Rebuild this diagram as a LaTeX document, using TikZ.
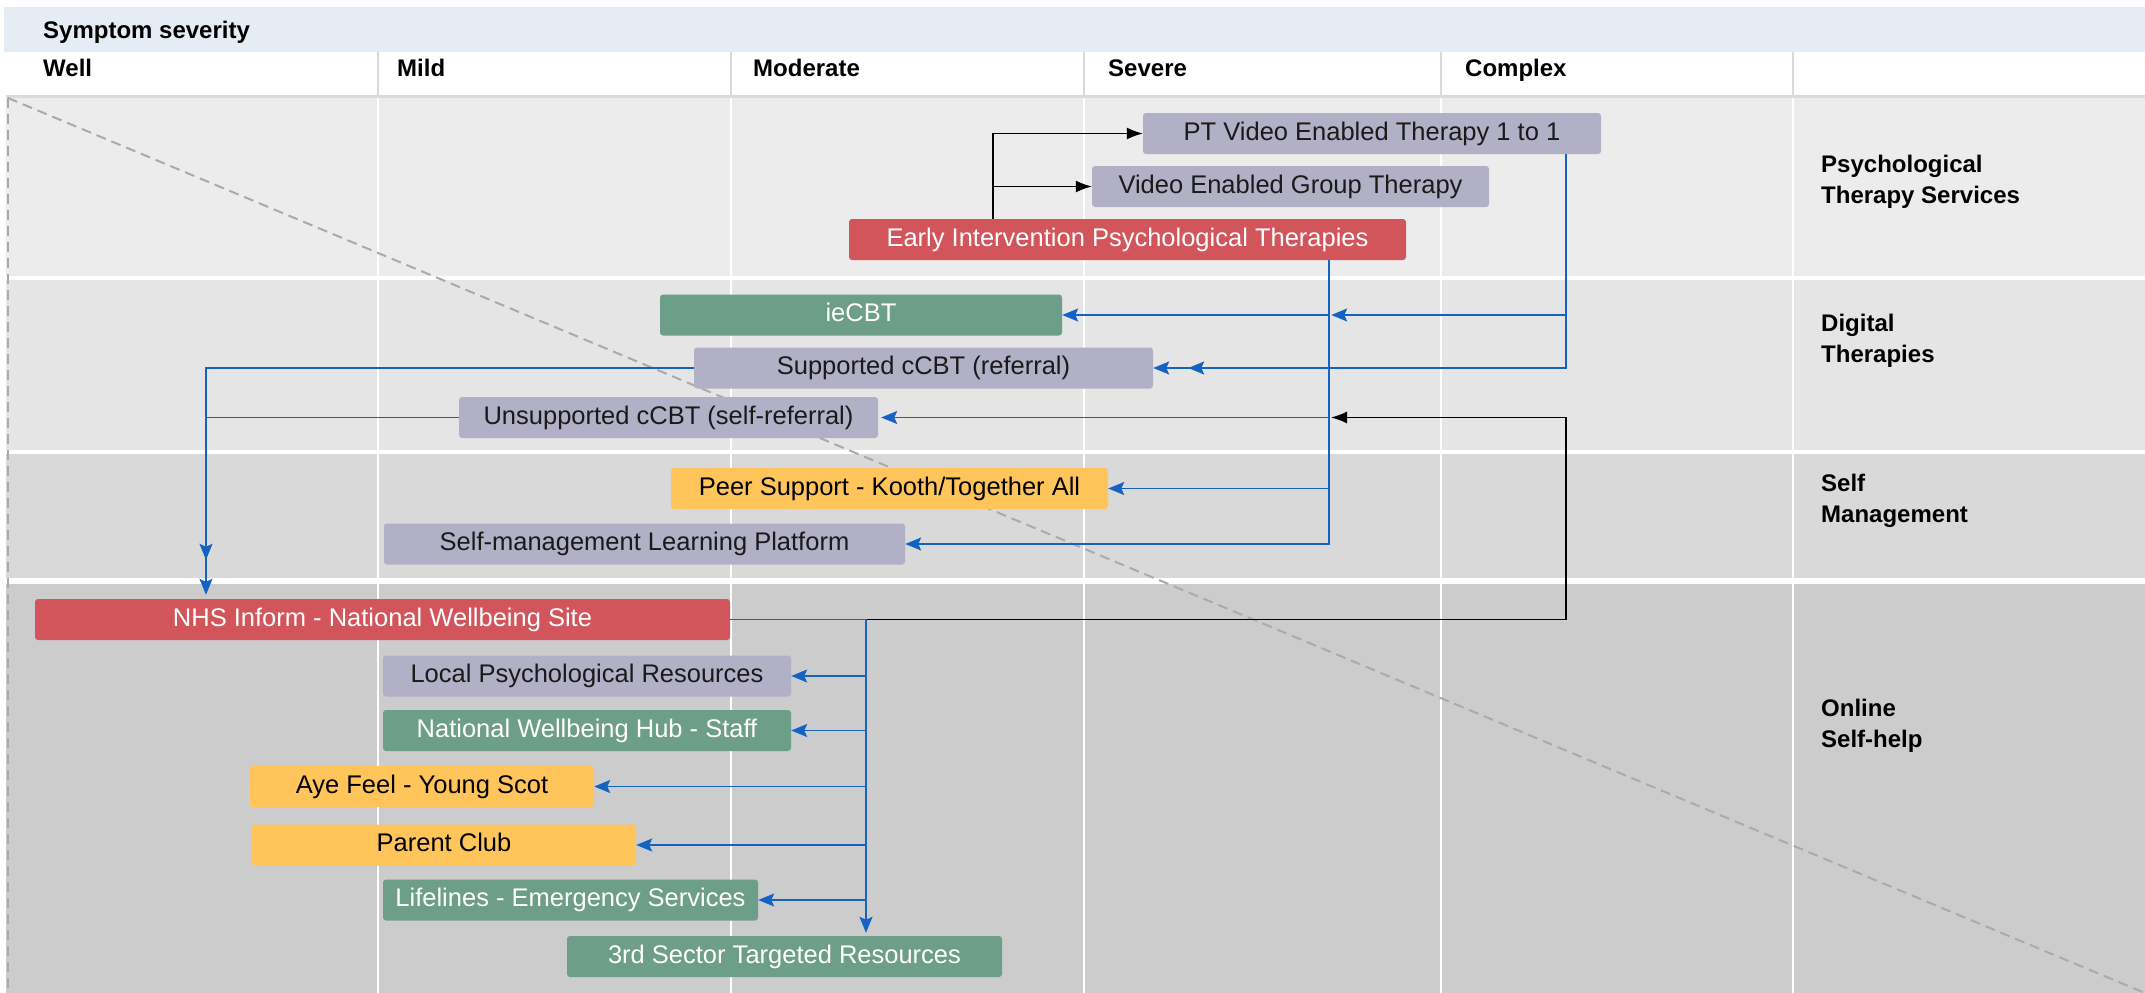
\documentclass[tikz,border=0pt]{standalone}
\usepackage{fontspec}
\setmainfont{Liberation Sans}
\usetikzlibrary{arrows.meta,calc}
\definecolor{hdrband}{HTML}{E5ECF4}
\definecolor{rowA}{HTML}{ECECEC}
\definecolor{rowB}{HTML}{E5E5E5}
\definecolor{rowC}{HTML}{D9D9D9}
\definecolor{rowD}{HTML}{CCCCCC}
\definecolor{lav}{HTML}{B1B0C7}
\definecolor{redbox}{HTML}{D1555B}
\definecolor{grnbox}{HTML}{6D9E87}
\definecolor{ylwbox}{HTML}{FFC55A}
\definecolor{bluln}{HTML}{1463C2}
\definecolor{dashgray}{HTML}{AAAAAA}
\definecolor{divgray}{HTML}{DADADA}
\definecolor{txtdark}{HTML}{1A1A1A}
\begin{document}
\begin{tikzpicture}[x=1pt,y=-1pt,
  box/.style={rounded corners=3pt, minimum height=41pt, inner sep=0pt, text height=18.5pt, text depth=5.5pt, font=\fontsize{25.5}{30}\selectfont},
  lavbox/.style={box, fill=lav, text=txtdark},
  redb/.style={box, fill=redbox, text=white},
  grnb/.style={box, fill=grnbox, text=white},
  ylwb/.style={box, fill=ylwbox, text=black},
  hlabel/.style={anchor=base west, inner sep=0pt, font=\bfseries\fontsize{24}{28}\selectfont, text=black},
  rlabel/.style={anchor=west, inner sep=0pt, align=left, font=\bfseries\fontsize{24}{31}\selectfont, text=black},
  blu/.style={draw=bluln, line width=1.7pt, -{Stealth[length=16pt,width=13pt,inset=3pt]}},
  blk/.style={draw=black, line width=1.4pt, -{Latex[length=16pt,width=12pt]}}
]
\useasboundingbox (0,0) rectangle (2145,993);
\fill[white] (0,0) rectangle (2145,993);
% header
\fill[hdrband] (4,7) rectangle (2145,52);
\node[hlabel] (symsev) at (43,38.3) {Symptom severity};
\foreach \xx in {378,731,1084,1441,1793}{\draw[divgray, line width=1.5pt] (\xx,52) -- (\xx,96);}
\node[hlabel] (hwell) at (43,76.7) {Well};
\node[hlabel] (hmild) at (397,76.7) {Mild};
\node[hlabel] (hmod) at (753,76.7) {Moderate};
\node[hlabel] (hsev) at (1108,76.7) {Severe};
\node[hlabel] (hcomp) at (1465,76.7) {Complex};
% rows
\fill[rowA] (6,96) rectangle (2145,276);
\fill[rowB] (6,280) rectangle (2145,450);
\fill[rowC] (6,454) rectangle (2145,578);
\fill[rowD] (6,584) rectangle (2145,993);
\draw[divgray, line width=3pt] (6,96) -- (2145,96);
\foreach \xx in {378,731,1084,1441,1793}{\draw[white, line width=1.5pt] (\xx,97.5) -- (\xx,993);}
% dashed guide
\draw[dashgray, line width=2pt, dash pattern=on 10pt off 6pt] (8,98) -- (8,993);
\draw[dashgray, line width=2pt, dash pattern=on 10pt off 6pt] (8,98) -- (2145,993);
% row labels
\node[rlabel] (lpsy) at (1821,181.5) {Psychological\\Therapy Services};
\node[rlabel] (ldig) at (1821,341) {Digital\\Therapies};
\node[rlabel] (lsm) at (1821,500.5) {Self\\Management};
\node[rlabel] (lonl) at (1821,725.5) {Online\\Self-help};
% boxes
\node[lavbox, minimum width=458pt] (pt) at (1372,133.5) {PT Video Enabled Therapy 1 to 1};
\node[lavbox, minimum width=397pt] (vg) at (1290.5,186.5) {Video Enabled Group Therapy};
\node[redb, minimum width=557pt] (ei) at (1127.5,239.5) {Early Intervention Psychological Therapies};
\node[grnb, minimum width=402pt] (ie) at (861,315) {ieCBT};
\node[lavbox, minimum width=459pt] (sc) at (923.5,368) {Supported cCBT (referral)};
\node[lavbox, minimum width=419pt] (uc) at (668.5,417.5) {Unsupported cCBT (self-referral)};
\node[ylwb, minimum width=437pt] (ps) at (889.5,488.5) {Peer Support - Kooth/Together All};
\node[lavbox, minimum width=521pt] (sm) at (644.5,544) {Self-management Learning Platform};
\node[redb, minimum width=695pt] (nhs) at (382.5,619.5) {NHS Inform - National Wellbeing Site};
\node[lavbox, minimum width=408pt] (lp) at (587,676) {Local Psychological Resources};
\node[grnb, minimum width=408pt] (nw) at (587,730.5) {National Wellbeing Hub - Staff};
\node[ylwb, minimum width=344pt] (ay) at (422,786.5) {Aye Feel - Young Scot};
\node[ylwb, minimum width=384pt] (pc) at (444,845) {Parent Club};
\node[grnb, minimum width=375pt] (ll) at (570.5,900) {Lifelines - Emergency Services};
\node[grnb, minimum width=435pt] (ts) at (784.5,956.5) {3rd Sector Targeted Resources};
% bus coordinates
\coordinate (busK) at (993,0);
\coordinate (busE) at (1329,0);
\coordinate (busP) at (1566,0);
\coordinate (busL) at (206,0);
\coordinate (busN) at (866,0);
\coordinate (dtip) at (1331,417.5);
% black connectors
\draw[blk] (ei.north -| busK) |- (pt.west);
\draw[blk] (ei.north -| busK) |- (vg.west);
\draw[blk] (nhs.east) -| (busP |- dtip) -- (dtip);
% blue connectors
\draw[blu, shorten >=269pt] (pt.south -| busP) |- (ie.east);
\draw[blu] (pt.south -| busP) |- (sc.east);
\draw[blu] (ei.south -| busE) |- (ie.east);
\draw[blu, shorten >=35pt] (ei.south -| busE) |- (sc.east);
\draw[blu, shorten >=3pt] (ei.south -| busE) |- (uc.east);
\draw[blu] (ei.south -| busE) |- (ps.east);
\draw[blu] (ei.south -| busE) |- (sm.east);
\draw[blu, shorten >=4pt] (sc.west) -| (nhs.north -| busL);
\draw[blu, shorten >=39pt] (uc.west) -| (nhs.north -| busL);
\draw[blu] (nhs.east) -| (busN |- lp.east) -- (lp.east);
\draw[blu] (nhs.east) -| (busN |- nw.east) -- (nw.east);
\draw[blu] (nhs.east) -| (busN |- ay.east) -- (ay.east);
\draw[blu] (nhs.east) -| (busN |- pc.east) -- (pc.east);
\draw[blu] (nhs.east) -| (busN |- ll.east) -- (ll.east);
\draw[blu, shorten >=3pt] (nhs.east) -| (ts.north -| busN);
\end{tikzpicture}
\end{document}
